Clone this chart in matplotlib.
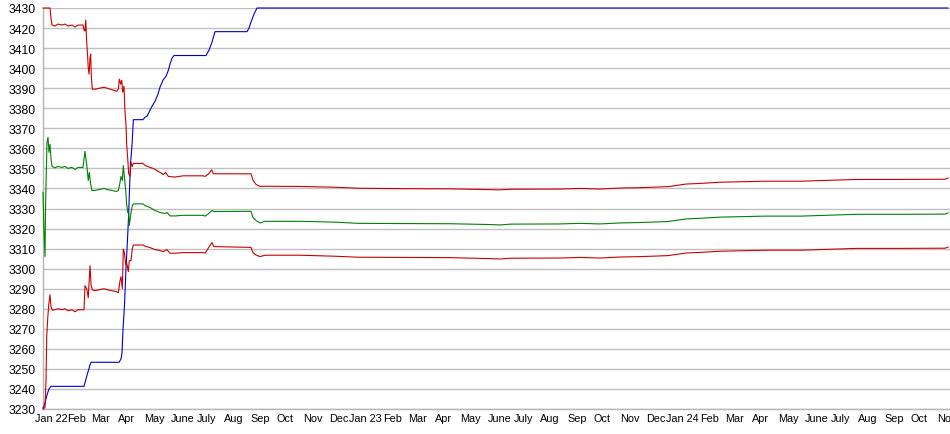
import matplotlib
matplotlib.use("Agg")
import matplotlib.pyplot as plt
import numpy as np
import pandas as pd

plt.rcParams['font.family'] = ['Liberation Sans', 'DejaVu Sans']

# ---- data (x = days since 2022-01-01) ----
start_date = "2022-01-01"
end_date = "2024-11-01"

blue_days = [0, 2.3, 4.6, 6.9, 9.2, 47.3, 49.6, 51.9, 54.2, 55.4, 87.7, 90, 91.1, 92.3, 94,
             95.7, 97.5, 98.6, 99.8, 100.9, 102.7, 104.2, 115.3, 117.6, 120, 123.4, 125.7,
             129.2, 132.6, 134.9, 138.4, 141.9, 144.2, 146.5, 148.8, 151.1, 188, 191.5,
             194.9, 198.4, 235.3, 237.6, 239.9, 243.4, 246.8, 1043.8]
blue_vals = [3230, 3233, 3237, 3240, 3241.3, 3241.3, 3245, 3248.5, 3252, 3253.3, 3253.3, 3255,
             3258, 3270, 3282, 3300, 3315, 3325, 3340, 3352, 3362, 3374.3, 3374.3, 3375.5,
             3376, 3379, 3381, 3383.5, 3387, 3390.5, 3394, 3396, 3398.5, 3402, 3405, 3406.3,
             3406.3, 3409, 3413, 3418.2, 3418.2, 3420, 3423, 3427, 3430, 3430]

upper_days = [0, 8.1, 9.2, 10.4, 13.8, 17.3, 21.9, 25.4, 28.8, 33.4, 36.9, 40.4, 46.1, 47.3,
              48.4, 49.3, 50.4, 51.6, 52.2, 53.1, 54.2, 55, 55.7, 56.9, 60, 70.4, 73.8, 85,
              86.9, 88, 89.6, 90.8, 91.9, 93.4, 94.6, 95.7, 96.5, 97.7, 98.8, 100.3, 101.5,
              103, 104.2, 115.3, 117.6, 123.4, 126.9, 131.1, 134.9, 138.7, 141.5, 144.5,
              152.2, 161.5, 184.5, 186.9, 190.3, 194.6, 196.4, 239.9, 242.2, 245.7, 250.3,
              256.1, 296.4, 336.8, 363.3, 411.8, 469.4, 515.6, 527.2, 538.8, 596.3, 619.4,
              642.4, 665.5, 688.6, 720.9, 741.6, 757.6, 780.8, 832.7, 873.1, 938.8, 988.5,
              1040.4, 1043.8]
upper_vals = [3430, 3430, 3425, 3421.5, 3421, 3422, 3421.5, 3422, 3421, 3421.5, 3420.5, 3421.5,
              3421.5, 3419, 3418.5, 3424, 3413, 3405, 3400, 3397, 3405, 3407, 3396, 3389.5,
              3389.5, 3390.5, 3390, 3388.5, 3389.5, 3394.5, 3392, 3394, 3388, 3391, 3378,
              3372, 3362, 3355, 3347.5, 3346, 3353, 3351, 3352.5, 3352.5, 3351.5, 3350.5,
              3350, 3349, 3348, 3347, 3348, 3346, 3345.7, 3346.3, 3346.3, 3346, 3347, 3349.3,
              3347.3, 3347.3, 3344, 3342, 3341, 3341.1, 3341, 3340.6, 3340.1, 3339.9, 3339.8,
              3339.4, 3339.3, 3339.6, 3339.7, 3340, 3339.7, 3340.2, 3340.4, 3340.9, 3342.2,
              3342.5, 3343.1, 3343.6, 3343.6, 3344.5, 3344.5, 3344.6, 3345.2]

mean_days = [0, 1.2, 2.3, 2.9, 3.5, 4.6, 5.8, 6.9, 8.1, 9.2, 10.4, 13.8, 17.3, 21.9, 25.4,
             28.8, 33.4, 36.9, 40.4, 46.1, 48.4, 50.4, 52.2, 53.4, 55, 56.5, 60, 70.4, 73.8,
             85, 86.9, 88.8, 90, 91.5, 92.6, 93.8, 95.4, 96.5, 97.7, 98.8, 99.5, 101.5, 103,
             104.2, 115.3, 117.6, 123.4, 129.2, 134.9, 140.7, 143, 146.5, 152.2, 161.5, 184.5,
             186.9, 190.3, 194.9, 197.2, 239.9, 242.2, 245.7, 250.3, 256.1, 296.4, 336.8,
             363.3, 411.8, 469.4, 515.6, 527.2, 538.8, 596.3, 619.4, 642.4, 665.5, 688.6,
             720.9, 741.6, 757.6, 780.8, 832.7, 873.1, 938.8, 988.5, 1040.4, 1043.8]
mean_vals = [3338, 3318, 3306, 3330, 3342, 3363, 3365.5, 3358, 3362, 3355, 3351, 3350.3, 3351,
             3350.5, 3351, 3350, 3350.5, 3349.5, 3350.5, 3350.5, 3358.5, 3352, 3344, 3348,
             3342, 3339, 3339, 3340, 3339.5, 3338.5, 3339, 3343, 3346, 3344, 3351.4, 3346,
             3339, 3332, 3328, 3328, 3321.5, 3328, 3331.5, 3332.3, 3332.3, 3331.5, 3330.5,
             3329, 3328, 3327.5, 3328, 3326.3, 3326.3, 3326.6, 3326.6, 3326.2, 3327.2, 3329,
             3328.5, 3328.6, 3325.5, 3324, 3322.8, 3323.6, 3323.6, 3323.2, 3322.6, 3322.5,
             3322.4, 3322, 3321.8, 3322.2, 3322.3, 3322.6, 3322.3, 3322.8, 3323, 3323.5,
             3324.8, 3325.1, 3325.7, 3326.2, 3326.2, 3327.1, 3327.1, 3327.2, 3327.8]

lower_days = [0, 2.3, 3.5, 4.3, 5.4, 6.6, 8.1, 9.2, 10.7, 13.8, 17.3, 21.9, 25.4, 28.8, 33.4,
              36.9, 40.4, 47.3, 48.4, 50.4, 52.2, 54.2, 55.4, 56.9, 59.2, 70.4, 73.8, 85, 86.9,
              88.8, 90, 91.5, 92.6, 93.8, 95.4, 96.5, 98.4, 99.5, 101.5, 103, 104.2, 115.3,
              117.6, 123.4, 129.2, 134.9, 138.7, 143, 146.5, 152.2, 161.5, 184.5, 186.9, 190.3,
              194.9, 197.2, 239.9, 242.2, 245.7, 250.3, 256.1, 296.4, 336.8, 363.3, 411.8,
              469.4, 515.6, 527.2, 538.8, 596.3, 619.4, 642.4, 665.5, 688.6, 720.9, 741.6,
              757.6, 780.8, 832.7, 873.1, 938.8, 988.5, 1040.4, 1043.8]
lower_vals = [3230.5, 3230.5, 3245, 3266, 3275, 3282, 3287, 3281, 3279.3, 3279.5, 3280, 3279.5,
              3280, 3279, 3279.5, 3278.5, 3279.5, 3279.5, 3291.5, 3290, 3285.5, 3301.5, 3292,
              3289.5, 3289, 3290, 3289.5, 3288.5, 3288, 3294, 3296, 3290, 3309.8, 3308, 3302,
              3303, 3298.5, 3304, 3304, 3310, 3311.8, 3311.8, 3311.2, 3310.5, 3309.5, 3309,
              3308.5, 3309.5, 3307.7, 3307.7, 3308, 3308, 3307.7, 3310, 3313, 3311, 3310.6,
              3308, 3306.8, 3306, 3306.7, 3306.7, 3306.2, 3305.7, 3305.6, 3305.5, 3305, 3304.8,
              3305.2, 3305.3, 3305.6, 3305.3, 3305.8, 3306, 3306.5, 3307.8, 3308.1, 3308.7,
              3309.2, 3309.2, 3310.1, 3310.1, 3310.2, 3310.8]

y_ticks = list(range(3230, 3431, 10))
month_names = ["Jan", "Feb", "Mar", "Apr", "May", "June", "July", "Aug", "Sep", "Oct", "Nov", "Dec"]

# ---- figure ----
W, H = 950, 435
fig = plt.figure(figsize=(W / 100, H / 100), dpi=100)
ax = fig.add_axes([43 / W, 1 - 410 / H, 1 - 43 / W, (410 - 9) / H])

ax.set_ylim(3230, 3430)
ax.set_xlim(0, 1046)
ax.set_yticks(y_ticks)
ax.set_yticklabels([str(v) for v in y_ticks])
ax.yaxis.grid(True, color='#c0c0c0', lw=1.0)
ax.set_axisbelow(True)
ax.tick_params(axis='y', length=0, pad=5, labelsize=8.8, colors='black')
ax.set_xticks([])
for s in ['top', 'right']:
    ax.spines[s].set_visible(False)
for s in ['left', 'bottom']:
    ax.spines[s].set_color('#b4b4b4')
    ax.spines[s].set_linewidth(1.0)

lw = 0.8
ax.plot(blue_days, blue_vals, color='#0000cc', lw=lw, clip_on=False, zorder=3)
ax.plot(upper_days, upper_vals, color='#cc0000', lw=lw, clip_on=False, zorder=4)
ax.plot(mean_days, mean_vals, color='#008000', lw=lw, clip_on=False, zorder=4)
ax.plot(lower_days, lower_vals, color='#cc0000', lw=lw, clip_on=False, zorder=4)

# month labels
base = pd.Timestamp(start_date)
months = pd.date_range(start_date, end_date, freq='MS')
for d in months:
    xd = (d - base).days
    name = month_names[d.month - 1]
    if d.month == 1:
        label = f"{name} {d.year % 100:02d}"
        ha, dx = 'center', (8 if d.year == 2022 else 6)
    else:
        label = name
        ha, dx = 'left', -3
    ax.annotate(label, xy=(xd, 0), xycoords=('data', 'axes fraction'),
                xytext=(dx, -4), textcoords='offset pixels', ha=ha, va='top',
                fontsize=7.8, color='black', annotation_clip=False)

fig.savefig("out.png", dpi=100)
